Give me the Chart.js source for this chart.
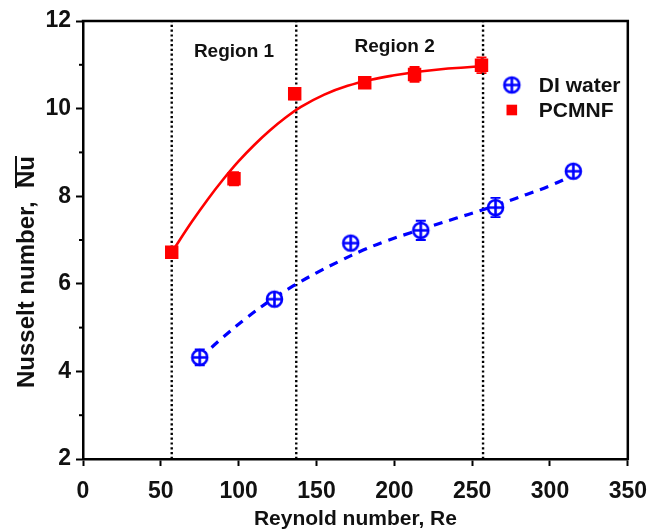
<!DOCTYPE html>
<html><head><meta charset="utf-8">
<script src="https://cdn.jsdelivr.net/npm/chart.js@4.4.0/dist/chart.umd.min.js"></script>
<style>html,body{margin:0;padding:0;background:#fff;}#wrap{width:659px;height:530px;}</style>
</head><body><div id="wrap"><canvas id="c" width="659" height="530"></canvas></div>
<script>
// ---- data ----
const seriesNames = ['DI water', 'PCMNF'];
const reDI = [75, 123, 172, 217, 265, 315];
const nuDI = [4.32, 5.65, 6.93, 7.22, 7.74, 8.57];
const errDI = [0.18, 0.08, 0.10, 0.22, 0.22, 0.08];
const rePC = [57, 97, 136, 181, 213, 256];
const nuPC = [6.72, 8.40, 10.34, 10.59, 10.78, 10.99];
const errPC = [0.12, 0.15, 0.13, 0.08, 0.17, 0.18];
const fitPCx = [57, 70, 80, 90, 100, 110, 120, 130, 140, 155, 170, 185, 200, 215, 230, 245, 257];
const fitPCy = [6.72, 7.42, 7.92, 8.38, 8.80, 9.17, 9.50, 9.79, 10.04, 10.32, 10.52, 10.66, 10.76, 10.84, 10.90, 10.94, 10.97];
const fitDIx = [75, 90, 105, 120, 135, 150, 165, 180, 195, 210, 225, 240, 255, 270, 285, 300, 315];
const fitDIy = [4.30, 4.78, 5.22, 5.61, 5.95, 6.25, 6.52, 6.77, 6.98, 7.16, 7.33, 7.50, 7.67, 7.85, 8.04, 8.24, 8.48];
const regionBounds = [57, 137, 257];
const regionLabels = ['Region 1', 'Region 2'];
const xTicks = [0, 50, 100, 150, 200, 250, 300, 350];
const yTicks = [2, 4, 6, 8, 10, 12];
const yMinorTicks = [3, 5, 7, 9, 11];
const xTitle = 'Reynold number, Re';
const yTitleMain = 'Nusselt number,  ';
const yTitleSym = 'Nu';

const RED = 'rgb(255,0,0)';
const BLUE = 'rgb(0,0,255)';
const FONT = '"Liberation Sans", Arial, sans-serif';

// circle-with-plus marker
function makeCirclePlus(r) {
  const s = Math.ceil(r * 2 + 6);
  const cv = document.createElement('canvas');
  cv.width = s; cv.height = s;
  const c = cv.getContext('2d');
  const m = s / 2;
  c.strokeStyle = BLUE; c.lineWidth = 2.6;
  c.fillStyle = '#fff';
  c.beginPath(); c.arc(m, m, r, 0, Math.PI * 2); c.fill(); c.stroke();
  c.beginPath(); c.moveTo(m - r, m); c.lineTo(m + r, m); c.moveTo(m, m - r); c.lineTo(m, m + r); c.stroke();
  return cv;
}
const circlePlus = makeCirclePlus(7.5);

const pts = (xs, ys) => xs.map((x, i) => ({x: x, y: ys[i]}));

const datasets = [];
regionBounds.forEach(b => datasets.push({
  label: 'bound', data: [{x: b, y: 2}, {x: b, y: 12}], showLine: true, pointRadius: 0,
  borderColor: '#000', borderWidth: 2.4, borderDash: [2.2, 2.6], order: 10
}));
datasets.push({label: 'fitPC', data: pts(fitPCx, fitPCy), showLine: true, pointRadius: 0,
  borderColor: RED, borderWidth: 2.6, tension: 0.4, order: 5});
datasets.push({label: 'fitDI', data: pts(fitDIx, fitDIy), showLine: true, pointRadius: 0,
  borderColor: BLUE, borderWidth: 3.2, borderDash: [9, 7], tension: 0.4, order: 5});
datasets.push({label: seriesNames[1], data: pts(rePC, nuPC), showLine: false, pointStyle: 'rect',
  pointRadius: 9.5, backgroundColor: RED, borderColor: RED, borderWidth: 0, errors: errPC, order: 1});
datasets.push({label: seriesNames[0], data: pts(reDI, nuDI), showLine: false, pointStyle: circlePlus,
  pointRadius: 8, backgroundColor: BLUE, borderColor: BLUE, errors: errDI, order: 1});

const decor = {
  id: 'decor',
  beforeDatasetsDraw(chart) {
    const {ctx, scales: {x, y}} = chart;
    ctx.save();
    chart.data.datasets.forEach(ds => {
      if (!ds.errors) return;
      ctx.strokeStyle = ds.borderColor; ctx.lineWidth = 1.8;
      ds.data.forEach((p, i) => {
        const px = x.getPixelForValue(p.x);
        const y1 = y.getPixelForValue(p.y + ds.errors[i]);
        const y2 = y.getPixelForValue(p.y - ds.errors[i]);
        ctx.beginPath();
        ctx.moveTo(px, y1); ctx.lineTo(px, y2);
        ctx.moveTo(px - 5, y1); ctx.lineTo(px + 5, y1);
        ctx.moveTo(px - 5, y2); ctx.lineTo(px + 5, y2);
        ctx.stroke();
      });
    });
    ctx.restore();
  },
  afterDraw(chart) {
    const {ctx, chartArea: a, scales: {x, y}} = chart;
    ctx.save();
    ctx.strokeStyle = '#000'; ctx.lineWidth = 2.5;
    ctx.beginPath();
    ctx.moveTo(a.left - 1.25, a.top); ctx.lineTo(a.right, a.top); ctx.lineTo(a.right, a.bottom + 1.25);
    ctx.stroke();
    ctx.lineWidth = 2;
    yMinorTicks.forEach(v => {
      const py = y.getPixelForValue(v);
      ctx.beginPath(); ctx.moveTo(a.left - 4, py); ctx.lineTo(a.left, py); ctx.stroke();
    });
    ctx.fillStyle = '#111';
    ctx.font = 'bold 19px ' + FONT;
    ctx.textAlign = 'center'; ctx.textBaseline = 'middle';
    const rys = [a.top + 31, a.top + 26];
    regionLabels.forEach((t, i) => {
      const cx = (x.getPixelForValue(regionBounds[i]) + x.getPixelForValue(regionBounds[i + 1])) / 2;
      ctx.fillText(t, cx + (i === 1 ? 5 : 0), rys[i]);
    });
    ctx.font = 'bold 21px ' + FONT;
    ctx.textAlign = 'left';
    const n = chart.data.datasets.length;
    const legendItems = [chart.data.datasets[n - 1], chart.data.datasets[n - 2]];
    legendItems.forEach((ds, i) => {
      const mx = a.right - 116, my = a.top + 64 + i * 25;
      ctx.fillStyle = ds.backgroundColor; ctx.strokeStyle = ds.borderColor;
      Chart.helpers.drawPoint(ctx, {pointStyle: ds.pointStyle, radius: ds.pointStyle === 'rect' ? 7.5 : 8, borderWidth: 0}, mx, my);
      ctx.fillStyle = '#111';
      ctx.fillText(ds.label, a.right - 89, my + 1);
    });
    ctx.font = 'bold 21px ' + FONT;
    ctx.textAlign = 'center';
    ctx.fillText(xTitle, (a.left + a.right) / 2, 519);
    ctx.translate(27, 272);
    ctx.rotate(-Math.PI / 2);
    ctx.font = 'bold 24px ' + FONT;
    const w1 = ctx.measureText(yTitleMain).width;
    const w2 = ctx.measureText(yTitleSym).width;
    const start = -(w1 + w2) / 2;
    ctx.textAlign = 'left';
    ctx.fillText(yTitleMain, start, 0);
    ctx.fillText(yTitleSym, start + w1, 0);
    ctx.strokeStyle = '#111';
    ctx.lineWidth = 2;
    ctx.beginPath(); ctx.moveTo(start + w1, -11); ctx.lineTo(start + w1 + w2, -11); ctx.stroke();
    ctx.restore();
  }
};

new Chart(document.getElementById('c'), {
  type: 'scatter',
  data: {datasets: datasets},
  options: {
    responsive: false, animation: false, devicePixelRatio: 1,
    layout: {padding: {top: 21, right: 30, left: 0, bottom: 0}},
    plugins: {legend: {display: false}, tooltip: {enabled: false}},
    scales: {
      x: {
        type: 'linear', min: 0, max: 350,
        afterBuildTicks: s => { s.ticks = xTicks.map(v => ({value: v})); },
        afterFit: s => { s.height = 71; },
        ticks: {color: '#111', font: {family: FONT, size: 23, weight: 'bold'}, padding: 12, maxRotation: 0},
        grid: {drawOnChartArea: false, drawTicks: true, tickLength: 7, tickWidth: 2, tickColor: '#000'},
        border: {color: '#000', width: 2.5}
      },
      y: {
        type: 'linear', min: 2, max: 12,
        afterBuildTicks: s => { s.ticks = yTicks.map(v => ({value: v})); },
        afterFit: s => { s.width = 83; },
        ticks: {color: '#111', font: {family: FONT, size: 23, weight: 'bold'}, padding: 5},
        grid: {drawOnChartArea: false, drawTicks: true, tickLength: 7, tickWidth: 2, tickColor: '#000'},
        border: {color: '#000', width: 2.5}
      }
    }
  },
  plugins: [decor]
});
</script>
</body></html>
